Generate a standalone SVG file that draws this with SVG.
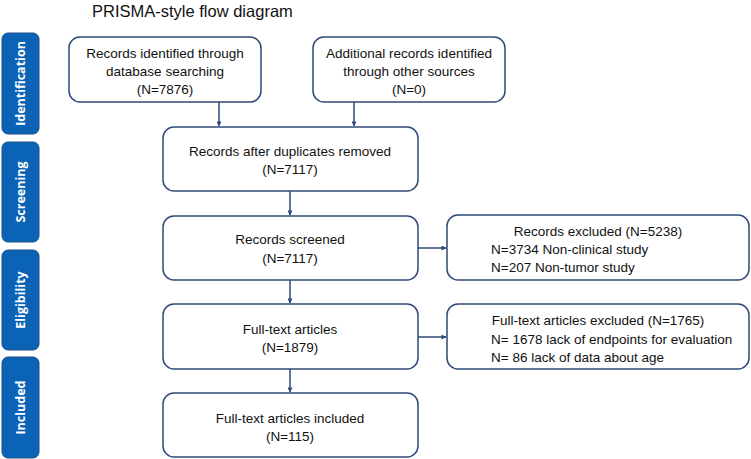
<svg xmlns="http://www.w3.org/2000/svg" width="751" height="459" viewBox="0 0 751 459">
  <defs>
    <marker id="arrow" viewBox="0 0 6 6" refX="5.5" refY="3" markerWidth="5" markerHeight="5" markerUnits="userSpaceOnUse" orient="auto">
      <path d="M0,0 L6,3 L0,6 z" fill="#2f4a7a"/>
    </marker>
    <style>
      .box { fill: #ffffff; stroke: #2f4a7a; stroke-width: 1.5; }
      .phase { fill: #0b63b6; stroke: #1d4f8a; stroke-width: 1; }
      .phase-label { fill: #ffffff; font-family: "Open Sans", "Liberation Sans", sans-serif; font-weight: bold; font-size: 12.5px; text-anchor: middle; }
      .t { fill: #111111; font-family: "Liberation Sans", Arial, sans-serif; font-size: 13.5px; }
      .c { text-anchor: middle; }
      .edge { stroke: #2f4a7a; stroke-width: 1.5; fill: none; marker-end: url(#arrow); }
      .title { fill: #111111; font-family: "Liberation Sans", Arial, sans-serif; font-size: 16.5px; }
    </style>
  </defs>

  <text class="title" x="92" y="17">PRISMA-style flow diagram</text>

  <!-- phase bars -->
  <g id="phase-identification">
    <rect class="phase" x="2" y="33" width="37" height="101" rx="6"/>
    <text class="phase-label" transform="translate(25,83.5) rotate(-90)">Identification</text>
  </g>
  <g id="phase-screening">
    <rect class="phase" x="2" y="142" width="37" height="100" rx="6"/>
    <text class="phase-label" transform="translate(25,192) rotate(-90)">Screening</text>
  </g>
  <g id="phase-eligibility">
    <rect class="phase" x="2" y="250" width="37" height="100" rx="6"/>
    <text class="phase-label" transform="translate(25,300) rotate(-90)">Eligibility</text>
  </g>
  <g id="phase-included">
    <rect class="phase" x="2" y="357" width="37" height="101" rx="6"/>
    <text class="phase-label" transform="translate(25,407.5) rotate(-90)">Included</text>
  </g>

  <!-- connectors -->
  <g id="connectors">
    <line class="edge" x1="219" y1="102" x2="219" y2="126"/>
    <line class="edge" x1="354" y1="102" x2="354" y2="126"/>
    <line class="edge" x1="290" y1="191" x2="290" y2="215"/>
    <line class="edge" x1="290" y1="280" x2="290" y2="303"/>
    <line class="edge" x1="290" y1="369" x2="290" y2="392"/>
    <line class="edge" x1="418" y1="248" x2="446" y2="248"/>
    <line class="edge" x1="418" y1="337" x2="446" y2="337"/>
  </g>

  <!-- nodes -->
  <g id="node-database">
    <rect class="box" x="69" y="37" width="192" height="65" rx="11"/>
    <text class="t c" x="165" y="58">Records identified through</text>
    <text class="t c" x="165" y="76">database searching</text>
    <text class="t c" x="165" y="94">(N=7876)</text>
  </g>
  <g id="node-other-sources">
    <rect class="box" x="313" y="37" width="192" height="65" rx="11"/>
    <text class="t c" x="409" y="58">Additional records identified</text>
    <text class="t c" x="409" y="76">through other sources</text>
    <text class="t c" x="409" y="94">(N=0)</text>
  </g>
  <g id="node-deduplicated">
    <rect class="box" x="163" y="127" width="255" height="64" rx="11"/>
    <text class="t c" x="290" y="156">Records after duplicates removed</text>
    <text class="t c" x="290" y="174">(N=7117)</text>
  </g>
  <g id="node-screened">
    <rect class="box" x="163" y="216" width="255" height="64" rx="11"/>
    <text class="t c" x="290" y="244">Records screened</text>
    <text class="t c" x="290" y="263">(N=7117)</text>
  </g>
  <g id="node-excluded-records">
    <rect class="box" x="447" y="215" width="302" height="65" rx="11"/>
    <text class="t c" x="598" y="236">Records excluded (N=5238)</text>
    <text class="t" x="491" y="254">N=3734 Non-clinical study</text>
    <text class="t" x="491" y="272">N=207 Non-tumor study</text>
  </g>
  <g id="node-fulltext">
    <rect class="box" x="163" y="304" width="255" height="65" rx="11"/>
    <text class="t c" x="290" y="334">Full-text articles</text>
    <text class="t c" x="290" y="352">(N=1879)</text>
  </g>
  <g id="node-excluded-fulltext">
    <rect class="box" x="447" y="304" width="302" height="65" rx="11"/>
    <text class="t c" x="598" y="325">Full-text articles excluded (N=1765)</text>
    <text class="t" x="491" y="344">N= 1678 lack of endpoints for evaluation</text>
    <text class="t" x="491" y="362">N= 86 lack of data about age</text>
  </g>
  <g id="node-included">
    <rect class="box" x="163" y="393" width="255" height="64" rx="11"/>
    <text class="t c" x="290" y="423">Full-text articles included</text>
    <text class="t c" x="290" y="441">(N=115)</text>
  </g>
</svg>
